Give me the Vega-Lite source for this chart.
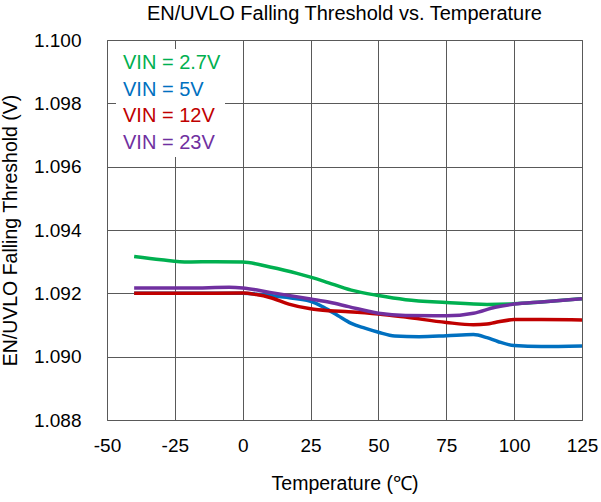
{
  "$schema": "https://vega.github.io/schema/vega-lite/v6.json",
  "width": 475,
  "height": 380,
  "padding": {"left": 0, "top": 4, "right": 1, "bottom": 4},
  "background": "white",
  "title": {"text": "EN/UVLO Falling Threshold vs. Temperature", "font": "Liberation Sans", "fontSize": 20, "fontWeight": "normal", "color": "#000000", "offset": 7},
  "config": {
    "view": {"stroke": "#595959", "strokeWidth": 1},
    "font": "Liberation Sans",
    "axis": {"gridColor": "#595959", "gridOpacity": 1, "gridWidth": 1, "domain": false, "ticks": false, "labelFont": "Liberation Sans", "labelFontSize": 19, "labelColor": "#000000", "titleFont": "Liberation Sans", "titleFontSize": 19.5, "titleFontWeight": "normal", "titleColor": "#000000"}
  },
  "data": {"values": [
    {"t": -40, "v": 1.09316, "vin": "2.7V"},
    {"t": -30, "v": 1.09306, "vin": "2.7V"},
    {"t": -20, "v": 1.09299, "vin": "2.7V"},
    {"t": -10, "v": 1.09300, "vin": "2.7V"},
    {"t": 0, "v": 1.09299, "vin": "2.7V"},
    {"t": 10, "v": 1.09283, "vin": "2.7V"},
    {"t": 20, "v": 1.09263, "vin": "2.7V"},
    {"t": 25, "v": 1.09251, "vin": "2.7V"},
    {"t": 30, "v": 1.09238, "vin": "2.7V"},
    {"t": 40, "v": 1.09210, "vin": "2.7V"},
    {"t": 50, "v": 1.09193, "vin": "2.7V"},
    {"t": 60, "v": 1.09180, "vin": "2.7V"},
    {"t": 75, "v": 1.09171, "vin": "2.7V"},
    {"t": 90, "v": 1.09165, "vin": "2.7V"},
    {"t": 100, "v": 1.09167, "vin": "2.7V"},
    {"t": 110, "v": 1.09173, "vin": "2.7V"},
    {"t": 125, "v": 1.09183, "vin": "2.7V"},

    {"t": -40, "v": 1.09200, "vin": "5V"},
    {"t": -20, "v": 1.09200, "vin": "5V"},
    {"t": 0, "v": 1.09200, "vin": "5V"},
    {"t": 10, "v": 1.09193, "vin": "5V"},
    {"t": 15, "v": 1.09188, "vin": "5V"},
    {"t": 25, "v": 1.09175, "vin": "5V"},
    {"t": 30, "v": 1.09155, "vin": "5V"},
    {"t": 35, "v": 1.09130, "vin": "5V"},
    {"t": 40, "v": 1.09105, "vin": "5V"},
    {"t": 45, "v": 1.09090, "vin": "5V"},
    {"t": 50, "v": 1.09077, "vin": "5V"},
    {"t": 56, "v": 1.09065, "vin": "5V"},
    {"t": 65, "v": 1.09063, "vin": "5V"},
    {"t": 75, "v": 1.09066, "vin": "5V"},
    {"t": 85, "v": 1.09070, "vin": "5V"},
    {"t": 90, "v": 1.09060, "vin": "5V"},
    {"t": 94, "v": 1.09048, "vin": "5V"},
    {"t": 100, "v": 1.09035, "vin": "5V"},
    {"t": 110, "v": 1.09032, "vin": "5V"},
    {"t": 125, "v": 1.09034, "vin": "5V"},

    {"t": -40, "v": 1.09200, "vin": "12V"},
    {"t": -20, "v": 1.09200, "vin": "12V"},
    {"t": 0, "v": 1.09201, "vin": "12V"},
    {"t": 5, "v": 1.09196, "vin": "12V"},
    {"t": 10, "v": 1.09187, "vin": "12V"},
    {"t": 17, "v": 1.09166, "vin": "12V"},
    {"t": 25, "v": 1.09151, "vin": "12V"},
    {"t": 32, "v": 1.09145, "vin": "12V"},
    {"t": 39, "v": 1.09142, "vin": "12V"},
    {"t": 50, "v": 1.09135, "vin": "12V"},
    {"t": 60, "v": 1.09125, "vin": "12V"},
    {"t": 75, "v": 1.09108, "vin": "12V"},
    {"t": 85, "v": 1.09101, "vin": "12V"},
    {"t": 90, "v": 1.09103, "vin": "12V"},
    {"t": 93, "v": 1.09108, "vin": "12V"},
    {"t": 100, "v": 1.09117, "vin": "12V"},
    {"t": 110, "v": 1.09117, "vin": "12V"},
    {"t": 125, "v": 1.09116, "vin": "12V"},

    {"t": -40, "v": 1.09217, "vin": "23V"},
    {"t": -20, "v": 1.09217, "vin": "23V"},
    {"t": -5, "v": 1.09219, "vin": "23V"},
    {"t": 0, "v": 1.09217, "vin": "23V"},
    {"t": 10, "v": 1.09203, "vin": "23V"},
    {"t": 25, "v": 1.09182, "vin": "23V"},
    {"t": 32, "v": 1.09172, "vin": "23V"},
    {"t": 39, "v": 1.09158, "vin": "23V"},
    {"t": 50, "v": 1.09137, "vin": "23V"},
    {"t": 60, "v": 1.09130, "vin": "23V"},
    {"t": 75, "v": 1.09129, "vin": "23V"},
    {"t": 85, "v": 1.09137, "vin": "23V"},
    {"t": 93, "v": 1.09156, "vin": "23V"},
    {"t": 100, "v": 1.09166, "vin": "23V"},
    {"t": 110, "v": 1.09173, "vin": "23V"},
    {"t": 125, "v": 1.09183, "vin": "23V"}
  ]},
  "mark": {"type": "line", "interpolate": "monotone", "strokeWidth": 3.5, "clip": true},
  "encoding": {
    "x": {"field": "t", "type": "quantitative", "title": "Temperature (℃)",
      "scale": {"domain": [-50, 125], "nice": false, "zero": false},
      "axis": {"values": [-50, -25, 0, 25, 50, 75, 100, 125], "labelPadding": 16, "titlePadding": 19, "labelFlush": false,
        "labelExpr": "datum.value < 0 ? '-' + abs(datum.value) : '' + datum.value"}},
    "y": {"field": "v", "type": "quantitative", "title": "EN/UVLO Falling Threshold (V)",
      "scale": {"domain": [1.088, 1.1], "nice": false, "zero": false},
      "axis": {"values": [1.088, 1.09, 1.092, 1.094, 1.096, 1.098, 1.1], "format": ".3f", "labelPadding": 26, "titlePadding": 13}},
    "color": {"field": "vin", "type": "nominal",
      "scale": {"domain": ["2.7V", "5V", "12V", "23V"], "range": ["#00b050", "#0070c0", "#c00000", "#7030a0"]},
      "legend": {"title": null, "orient": "top-left", "offset": 9, "padding": 4, "fillColor": "white", "strokeColor": null,
        "symbolSize": 0.01, "symbolOpacity": 0, "symbolStrokeWidth": 0.01, "labelOffset": -17,
        "labelFont": "Liberation Sans", "labelFontSize": 20, "rowPadding": 6.5,
        "labelColor": {"expr": "scale('color', datum.value)"},
        "labelExpr": "'VIN = ' + datum.label"}}
  }
}
